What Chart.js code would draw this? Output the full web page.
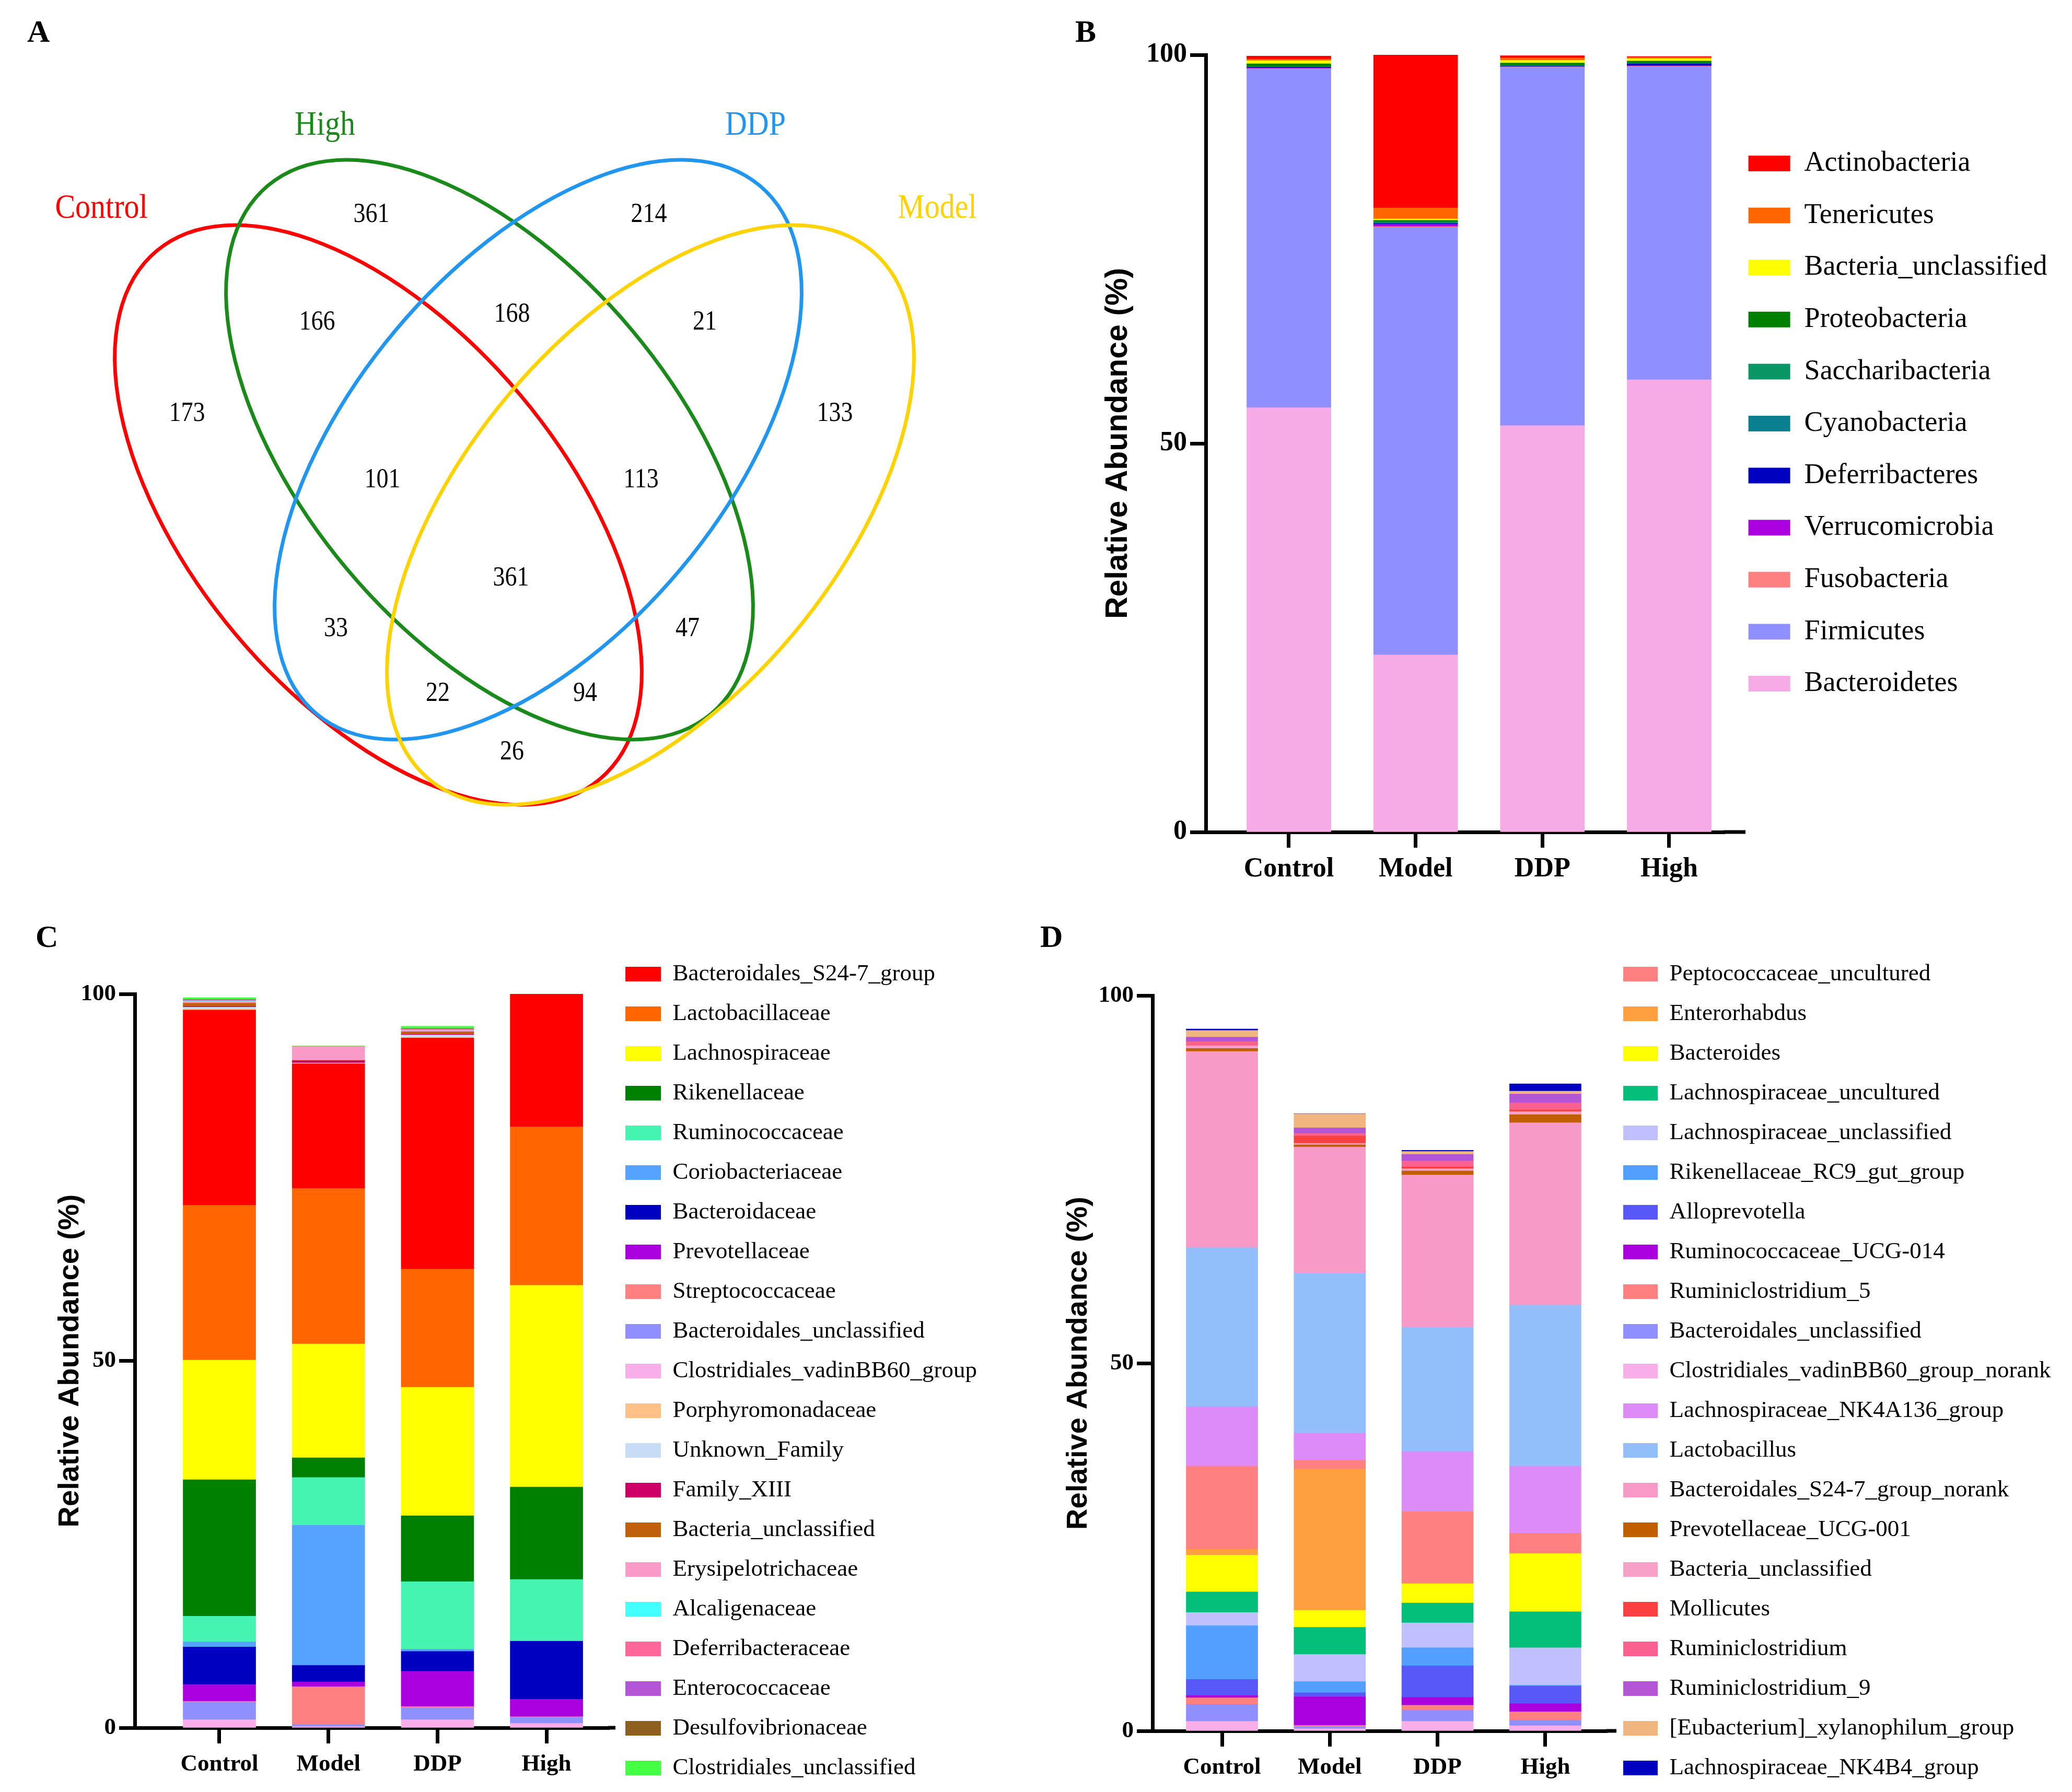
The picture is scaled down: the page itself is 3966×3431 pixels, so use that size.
<!DOCTYPE html>
<html>
<head>
<meta charset="utf-8">
<script src="https://cdn.jsdelivr.net/npm/chart.js@4.4.1/dist/chart.umd.min.js"></script>
<style>
html, body { margin: 0; padding: 0; background: #fff; overflow: hidden; }
body { width: 3966px; height: 3431px; position: relative; }
canvas { position: absolute; }
.tag { position: absolute; z-index: 5; font-family: 'Liberation Serif', serif; font-weight: bold; font-size: 60px; line-height: 60px; color: #000; }
</style>
</head>
<body>
<canvas id="vennChart" width="1980" height="1720" style="left:0;top:0;width:1980px;height:1720px"></canvas>
<canvas id="phylumChart" width="1986" height="1740" style="left:1980px;top:0;width:1986px;height:1740px"></canvas>
<canvas id="familyChart" width="1980" height="1760" style="left:0;top:1700px;width:1980px;height:1760px"></canvas>
<canvas id="genusChart" width="1986" height="1760" style="left:1980px;top:1700px;width:1986px;height:1760px"></canvas>
<div class="tag" style="left:52px;top:30px">A</div>
<div class="tag" style="left:2058px;top:30px">B</div>
<div class="tag" style="left:68px;top:1763px">C</div>
<div class="tag" style="left:1991px;top:1763px">D</div>
<script>
const serif = "'Liberation Serif', 'Times New Roman', serif";
const sans = "'Liberation Sans', Arial, sans-serif";
Chart.defaults.font.family = serif;
Chart.defaults.color = '#000';

const groups = ['Control', 'Model', 'DDP', 'High'];

// Venn (A)
const vennSets = ['Control', 'High', 'DDP', 'Model'];
const vennColors = ['#ff0000', '#1a8a1a', '#2196f0', '#ffd200'];
const vennCounts = [361, 214, 166, 168, 21, 173, 133, 101, 113, 361, 33, 47, 22, 94, 26];
// label spots and ellipse outlines (page pixels)
const vennPos = [[711, 411], [1242, 411], [607, 617], [980, 602], [1349, 617], [358, 792], [1598, 792],
  [732, 919], [1227, 919], [978, 1107], [643, 1204], [1316, 1204], [838, 1328], [1120, 1328], [980, 1440]];
const vennShapes = [[724, 986, 660, 356, 50], [937, 861, 660, 356, 50], [1030, 861, 660, 356, -50], [1245, 986, 660, 356, -50]];
const vennNamePos = [[194, 400], [622, 241], [1446, 241], [1794, 400]];

// Phylum (B)
const phylumNames = ['Actinobacteria', 'Tenericutes', 'Bacteria_unclassified', 'Proteobacteria', 'Saccharibacteria',
  'Cyanobacteria', 'Deferribacteres', 'Verrucomicrobia', 'Fusobacteria', 'Firmicutes', 'Bacteroidetes'];
const phylumColors = ['#ff0000', '#ff6600', '#ffff00', '#008000', '#0a9664', '#0a7f90', '#0000c0', '#aa00e0', '#ff8080', '#8f8fff', '#f6aae6'];
const phylumControl = [0.4, 0.2, 0.4, 0.35, 0.05, 0.05, 0.1, 0.05, 0.05, 43.6, 54.6];
const phylumModel = [19.7, 1.4, 0.2, 0.2, 0.1, 0.1, 0.1, 0.3, 0.1, 55.0, 22.8];
const phylumDDP = [0.3, 0.3, 0.35, 0.3, 0.05, 0.05, 0.05, 0.05, 0.05, 46.1, 52.3];
const phylumHigh = [0.1, 0.2, 0.3, 0.25, 0.05, 0.05, 0.25, 0.05, 0.05, 40.3, 58.2];
const phylumStack = [10, 9, 8, 7, 6, 5, 4, 3, 2, 1, 0];

// Family (C)
const familyNames = ['Bacteroidales_S24-7_group', 'Lactobacillaceae', 'Lachnospiraceae', 'Rikenellaceae', 'Ruminococcaceae',
  'Coriobacteriaceae', 'Bacteroidaceae', 'Prevotellaceae', 'Streptococcaceae', 'Bacteroidales_unclassified',
  'Clostridiales_vadinBB60_group', 'Porphyromonadaceae', 'Unknown_Family', 'Family_XIII', 'Bacteria_unclassified',
  'Erysipelotrichaceae', 'Alcaligenaceae', 'Deferribacteraceae', 'Enterococcaceae', 'Desulfovibrionaceae', 'Clostridiales_unclassified'];
const familyColors = ['#ff0000', '#ff6600', '#ffff00', '#008000', '#44f4b0', '#55a2ff', '#0000c0', '#aa00e0', '#ff8080', '#8f8fff',
  '#f9aeea', '#ffc088', '#c8dcf8', '#cc0066', '#c0600c', '#f99ac9', '#44ffff', '#ff6699', '#b455d8', '#8f5f1f', '#44ff44'];
const familyControl = [26.6, 21.1, 16.3, 18.6, 3.5, 0.7, 5.1, 2.3, 0.1, 2.4, 1.1, 0.15, 0.25, 0.1, 0.45, 0.25, 0.05, 0.1, 0.05, 0.05, 0.25];
const familyModel = [17.0, 21.2, 15.5, 2.7, 6.5, 19.1, 2.25, 0.65, 5.15, 0.3, 0.15, 0.05, 0.05, 0.3, 0.05, 1.85, 0.02, 0.02, 0.02, 0.02, 0.02];
const familyDDP = [31.5, 16.1, 17.5, 9.0, 9.2, 0.3, 2.7, 4.8, 0.2, 1.6, 1.1, 0.1, 0.3, 0.1, 0.35, 0.2, 0.05, 0.1, 0.05, 0.05, 0.3];
const familyHigh = [18.1, 21.6, 27.5, 12.6, 8.35, 0.05, 7.9, 2.4, 0.1, 0.8, 0.6, 0, 0, 0, 0, 0, 0, 0, 0, 0, 0];
const familyStack = [10, 9, 8, 7, 6, 5, 4, 3, 2, 1, 0, 11, 12, 13, 14, 15, 16, 17, 18, 19, 20];

// Genus (D)
const genusNames = ['Peptococcaceae_uncultured', 'Enterorhabdus', 'Bacteroides', 'Lachnospiraceae_uncultured',
  'Lachnospiraceae_unclassified', 'Rikenellaceae_RC9_gut_group', 'Alloprevotella', 'Ruminococcaceae_UCG-014',
  'Ruminiclostridium_5', 'Bacteroidales_unclassified', 'Clostridiales_vadinBB60_group_norank', 'Lachnospiraceae_NK4A136_group',
  'Lactobacillus', 'Bacteroidales_S24-7_group_norank', 'Prevotellaceae_UCG-001', 'Bacteria_unclassified', 'Mollicutes',
  'Ruminiclostridium', 'Ruminiclostridium_9', '[Eubacterium]_xylanophilum_group', 'Lachnospiraceae_NK4B4_group'];
const genusColors = ['#ff8080', '#ffa040', '#ffff00', '#04bf79', '#c0c0ff', '#529fff', '#5858f8', '#aa00e0', '#ff8080', '#8f8fff',
  '#f9aeea', '#dd8bf7', '#92bff9', '#f89ac8', '#c15f00', '#f7a0c8', '#fa4040', '#fa6090', '#b455d8', '#f1b67f', '#0000c0'];
const genusControl = [11.3, 0.8, 5.0, 2.8, 1.8, 7.3, 2.2, 0.3, 0.9, 2.3, 1.3, 8.1, 21.6, 26.7, 0.4, 0.4, 0.05, 0.5, 0.6, 0.9, 0.2];
const genusModel = [1.2, 19.2, 2.3, 3.7, 3.7, 1.5, 0.55, 3.9, 0.15, 0.3, 0.3, 3.7, 21.75, 17.15, 0.3, 0.2, 1.0, 0.35, 0.75, 1.9, 0.05];
const genusDDP = [9.7, 0.1, 2.6, 2.7, 3.4, 2.45, 4.3, 1.05, 0.7, 1.5, 1.3, 8.2, 16.9, 20.7, 0.55, 0.3, 0.25, 0.8, 0.9, 0.4, 0.15];
const genusHigh = [2.75, 0.05, 7.9, 4.9, 5.1, 0.1, 2.4, 1.1, 1.15, 0.75, 0.7, 9.1, 21.9, 24.8, 1.1, 0.4, 0.25, 0.95, 1.2, 0.4, 1.0];
const genusStack = familyStack;

// ---- Venn ----
// text in the original is a bit taller than wide
function tallText(ctx, text, px, py) {
    ctx.save();
    ctx.translate(px, py);
    ctx.scale(1, 1.14);
    ctx.fillText(text, 0, 0);
    ctx.restore();
}

const vennPlugin = {
    id: 'vennPlugin',
    afterDatasetsDraw(chart) {
        const { ctx, scales: { x, y } } = chart;
        const k = x.getPixelForValue(1) - x.getPixelForValue(0);
        ctx.save();
        ctx.textAlign = 'center';
        ctx.textBaseline = 'middle';
        vennSets.forEach((name, i) => {
            const e = vennShapes[i];
            ctx.beginPath();
            ctx.ellipse(x.getPixelForValue(e[0]), y.getPixelForValue(e[1]), e[2] * k, e[3] * k, e[4] * Math.PI / 180, 0, 2 * Math.PI);
            ctx.strokeStyle = vennColors[i];
            ctx.lineWidth = 7;
            ctx.stroke();
            ctx.fillStyle = vennColors[i];
            ctx.font = '58px ' + serif;
            tallText(ctx, name, x.getPixelForValue(vennNamePos[i][0]), y.getPixelForValue(vennNamePos[i][1]));
        });
        ctx.fillStyle = '#000';
        ctx.font = '46px ' + serif;
        chart.getDatasetMeta(0).data.forEach((pt, i) => {
            tallText(ctx, String(vennCounts[i]), pt.x, pt.y);
        });
        ctx.restore();
    }
};

new Chart(document.getElementById('vennChart'), {
    type: 'scatter',
    data: { datasets: [{ data: vennPos.map(p => ({ x: p[0], y: p[1] })), pointRadius: 0 }] },
    options: {
        responsive: false, animation: false, devicePixelRatio: 1,
        layout: { padding: 0 },
        scales: {
            x: { display: false, min: 0, max: 1980 },
            y: { display: false, min: 0, max: 1720, reverse: true }
        },
        plugins: { legend: { display: false }, tooltip: { enabled: false } }
    },
    plugins: [vennPlugin]
});

// ---- stacked bars ----
const measure = document.createElement('canvas').getContext('2d');

// x axis line runs a little past the plot, under the legend gap
const axisTail = {
    id: 'axisTail',
    afterDraw(chart, args, opts) {
        const { ctx, scales: { x } } = chart;
        ctx.save();
        ctx.strokeStyle = '#000';
        ctx.lineWidth = 7;
        ctx.beginPath();
        ctx.moveTo(x.right - 2, x.top);
        ctx.lineTo(x.right + opts.length, x.top);
        ctx.stroke();
        ctx.restore();
    }
};

function stackedBars(id, names, colors, series, stack, s) {
    const canvas = document.getElementById(id);
    const datasets = stack.map(k => ({
        label: names[k],
        data: series.map((vals, g) => ({ x: g + 1, y: vals[k] })),
        backgroundColor: colors[k],
        borderWidth: 0,
        barThickness: s.bar
    }));
    // legend width the way Chart.js sizes it, so the plot ends where the legend begins
    measure.font = 'normal ' + s.legendFont + 'px ' + serif;
    const textW = Math.max(...names.map(n => measure.measureText(n).width));
    const legendW = s.legendPad + s.boxW + s.legendFont / 2 + textW + 10;
    const padRight = Math.max(0, canvas.width - s.plotRight - legendW);
    const tickFont = { family: serif, weight: 'bold', size: s.tickFont };
    return new Chart(canvas, {
        type: 'bar',
        data: { datasets: datasets },
        options: {
            responsive: false, animation: false, devicePixelRatio: 1,
            layout: { padding: { left: 0, top: 0, right: padRight, bottom: 0 } },
            scales: {
                x: {
                    type: 'linear', min: s.xMin, max: s.xMax, stacked: true, offset: false, bounds: 'data',
                    afterBuildTicks: sc => { sc.ticks = groups.map((g, i) => ({ value: i + 1 })); },
                    afterFit: sc => { sc.height = s.xHeight; },
                    ticks: { callback: v => groups[v - 1], font: tickFont, color: '#000', padding: s.xPad, maxRotation: 0, autoSkip: false },
                    grid: { offset: false, drawOnChartArea: false, tickLength: 30, tickWidth: 7, tickColor: '#000' },
                    border: { color: '#000', width: 7 }
                },
                y: {
                    min: 0, max: 100, stacked: true,
                    afterFit: sc => { sc.width = s.yWidth; },
                    ticks: { stepSize: 50, font: tickFont, color: '#000', padding: 6 },
                    grid: { drawOnChartArea: false, tickLength: 30, tickWidth: 7, tickColor: '#000' },
                    border: { color: '#000', width: 7 },
                    title: {
                        display: true, text: 'Relative Abundance (%)', color: '#000',
                        font: { family: sans, weight: 'bold', size: s.titleFont },
                        padding: { top: s.titlePad, bottom: 0 }
                    }
                }
            },
            plugins: {
                title: { display: true, text: '', fullSize: false, font: { size: 10 }, padding: { top: s.top - 12, bottom: 0 } },
                legend: {
                    position: 'right', align: 'start', maxWidth: 3000,
                    title: { display: true, text: '', font: { size: 10 }, padding: { top: s.legendTop - 12, bottom: 0 } },
                    labels: {
                        boxWidth: s.boxW, boxHeight: s.boxH, padding: s.legendPad, color: '#000',
                        font: { family: serif, size: s.legendFont },
                        sort: (a, b) => stack[a.datasetIndex] - stack[b.datasetIndex]
                    }
                },
                tooltip: { enabled: false },
                axisTail: { length: s.tail }
            }
        },
        plugins: [axisTail]
    });
}

stackedBars('phylumChart', phylumNames, phylumColors, [phylumControl, phylumModel, phylumDDP, phylumHigh], phylumStack, {
    bar: 161, tickFont: 52, titleFont: 59, titlePad: 125, yWidth: 328, xHeight: 147, xPad: 10,
    xMin: 0.3448, xMax: 4.437, top: 105, plotRight: 1321, legendTop: 240.4, tail: 40,
    boxW: 80, boxH: 30, legendPad: 45.6, legendFont: 54
});

stackedBars('familyChart', familyNames, familyColors, [familyControl, familyModel, familyDDP, familyHigh], familyStack, {
    bar: 139, tickFont: 45, titleFont: 56, titlePad: 101, yWidth: 258, xHeight: 152, xPad: 13,
    xMin: 0.2238, xMax: 4.5746, top: 203, plotRight: 1166, legendTop: 111.5, tail: 12,
    boxW: 68, boxH: 28, legendPad: 31, legendFont: 45
});

stackedBars('genusChart', genusNames, genusColors, [genusControl, genusModel, genusDDP, genusHigh], genusStack, {
    bar: 137, tickFont: 45, titleFont: 56, titlePad: 51, yWidth: 226, xHeight: 146, xPad: 13,
    xMin: 0.3553, xMax: 4.5725, top: 206, plotRight: 1096, legendTop: 111.5, tail: 18,
    boxW: 66, boxH: 28, legendPad: 31, legendFont: 45
});
</script>
</body>
</html>
